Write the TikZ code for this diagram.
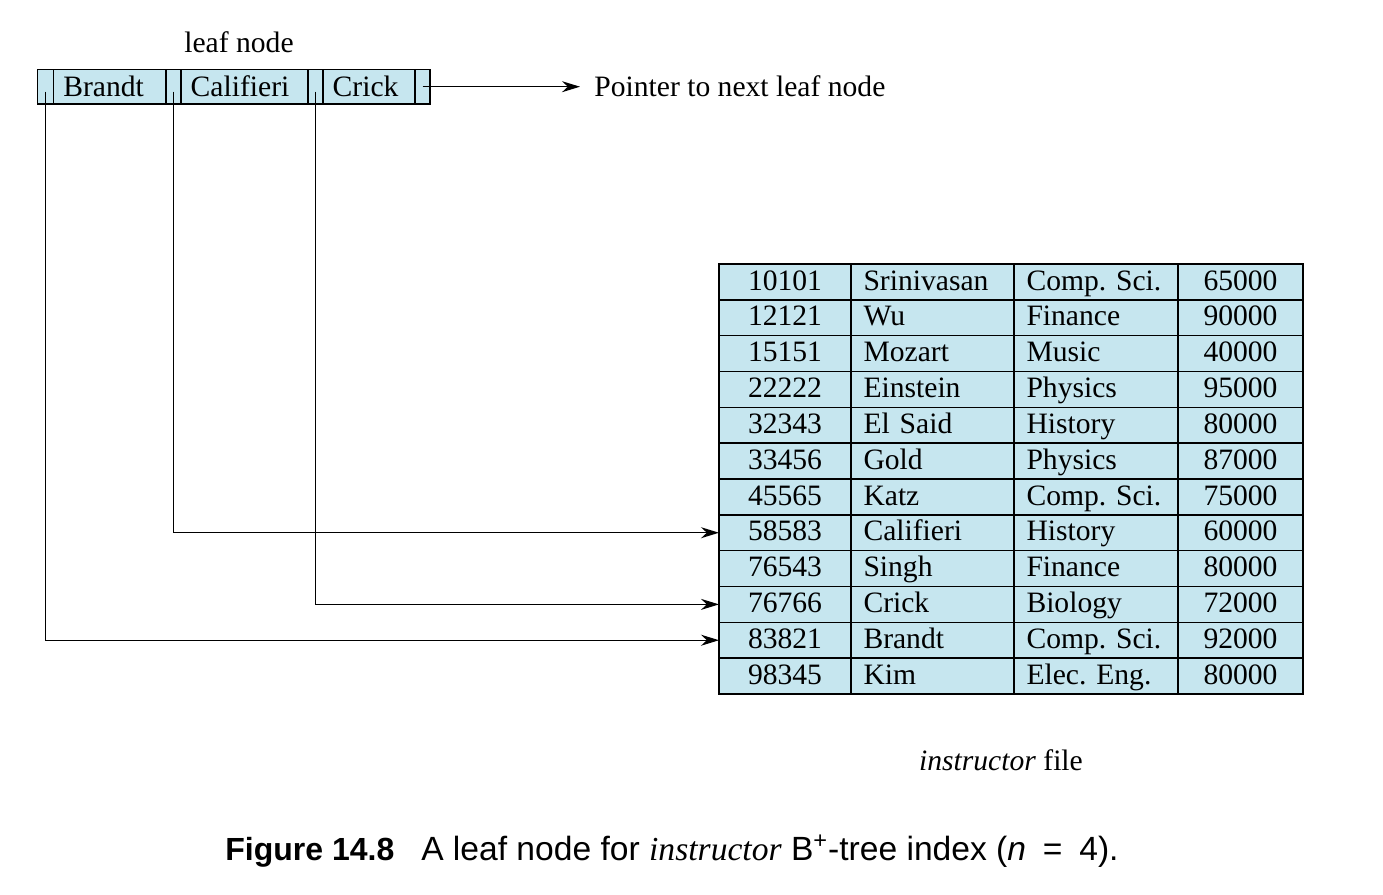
\documentclass[tikz,border=0pt]{standalone}
\usepackage{fontspec}
\setmainfont{Liberation Serif}
\setsansfont{Liberation Sans}
\usetikzlibrary{arrows.meta,positioning}
\definecolor{cellblue}{RGB}{198,230,239}
\frenchspacing

\begin{document}
\begin{tikzpicture}[x=0.5pt,y=-0.5pt]
 \tikzset{base node/.style={rectangle, draw, fill=cellblue, line width=0.8pt,
 		inner sep=0pt, outer sep=0pt, anchor=west,
 		text height=10.4pt, text depth=2.2pt,
 		font=\fontsize{14.8}{17}\selectfont}, }
 \tikzset{ptr node/.style={base node, minimum height=17.35pt, minimum width=#1}, }
 \tikzset{key node/.style={base node, minimum height=17.35pt, text width=#1,
 		text height=10pt, text depth=-1.5pt, align=left, inner xsep=5pt}, }
 \tikzset{col node/.style={base node, minimum height=17.92pt, minimum width=#1,
 		text centered}, }
 \tikzset{txt node/.style={base node, minimum height=17.92pt, text width=#1,
 		align=left, inner xsep=6.25pt}, }
 \tikzset{label node/.style={font=\fontsize{14.8}{17}\selectfont}, }
 \tikzset{linea/.style={-{Stealth[length=9pt,width=5.5pt]}, line width=0.7pt},}
 \useasboundingbox (0,0) rectangle (1383,895);
 %% leaf node
 \node[ptr node=8pt] (p1) at (37.3,86.7) {};
 \node[key node=46.35pt] (k1) [right=0pt of p1] {Brandt};
 \node[ptr node=7.35pt] (p2) [right=0pt of k1] {};
 \node[key node=53.65pt] (k2) [right=0pt of p2] {Califieri};
 \node[ptr node=7.35pt] (p3) [right=0pt of k2] {};
 \node[key node=36.15pt] (k3) [right=0pt of p3] {Crick};
 \node[ptr node=7.5pt] (p4) [right=0pt of k3] {};
 \node[label node] (leaf) at (239,42) {leaf node};
 \node[label node, anchor=west, inner xsep=7pt] (next) at (580,86.7) {Pointer to next leaf node};
 %% instructor file
 \foreach \id/\nm/\dept/\sal [count=\row] in {10101/Srinivasan/Comp. Sci./65000,
 		12121/Wu/Finance/90000, 15151/Mozart/Music/40000,
 		22222/Einstein/Physics/95000, 32343/El Said/History/80000,
 		33456/Gold/Physics/87000, 45565/Katz/Comp. Sci./75000,
 		58583/Califieri/History/60000, 76543/Singh/Finance/80000,
 		76766/Crick/Biology/72000, 83821/Brandt/Comp. Sci./92000,
 		98345/Kim/Elec. Eng./80000}
 {
 \node[col node=66pt] (id\row) at (719,{264+(\row-0.5)*35.83}) {\id};
 \node[txt node=69pt] (nm\row) [right=0pt of id\row] {\nm};
 \node[txt node=69.5pt] (dp\row) [right=0pt of nm\row] {\dept};
 \node[col node=62.5pt] (sal\row) [right=0pt of dp\row] {\sal};
 }
 \node[label node] (file) at (1001,760) {\textit{instructor} file};
 %% pointers
 \draw[linea] ([yshift=-2.5pt]p1.center) |- (id11.west);
 \draw[linea] ([yshift=-2.5pt]p2.center) |- (id8.west);
 \draw[linea] ([yshift=-2.5pt]p3.center) |- (id10.west);
 \draw[linea] (p4.center) -- (next.west);
 %% caption
 \node[font=\fontsize{16.8}{19}\sffamily] (caption) at (672,851)
 	{{\fontsize{16}{19}\selectfont\textbf{Figure 14.8}}\hspace{0.8em}A leaf node for
 	{\rmfamily\itshape instructor} B\textsuperscript{+}-tree index
 	(\textit{n}\enspace=\enspace4).};
\end{tikzpicture}
\end{document}
